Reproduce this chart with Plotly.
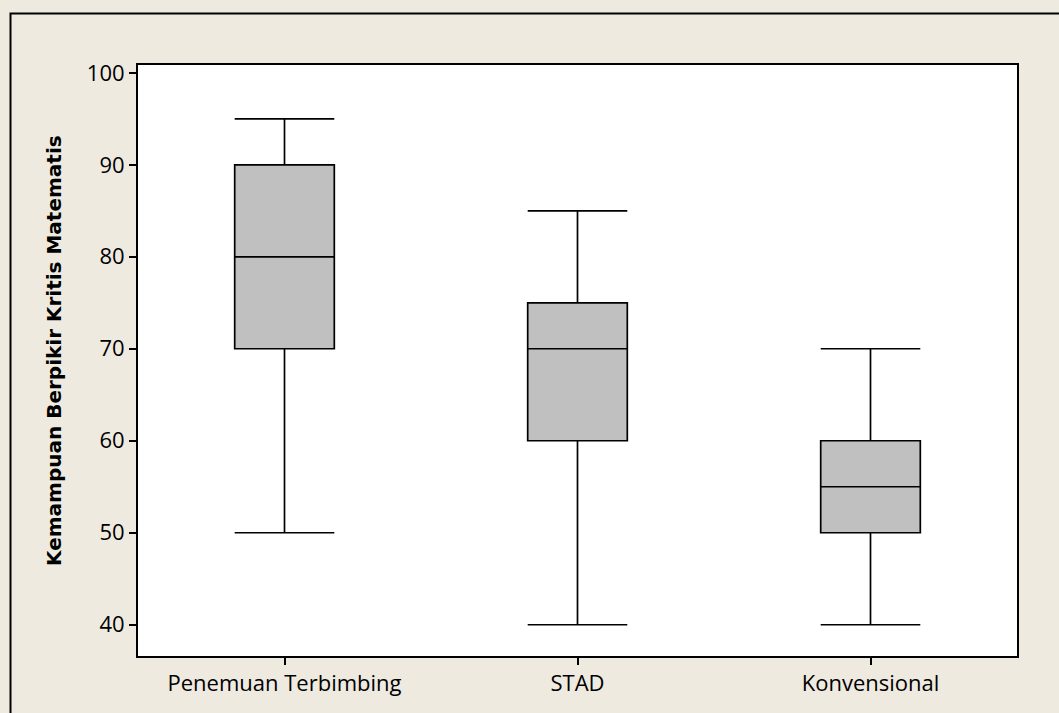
import plotly.graph_objects as go

categories = ["Penemuan Terbimbing", "STAD", "Konvensional"]
minimum = [50, 40, 40]
q1 = [70, 60, 50]
median = [80, 70, 55]
q3 = [90, 75, 60]
maximum = [95, 85, 70]
y_ticks = [40, 50, 60, 70, 80, 90, 100]
y_title = "Kemampuan Berpikir Kritis Matematis"

W, H = 1059, 713
L, R, T, B = 138, 42, 65, 57
pw, ph = W - L - R, H - T - B

fig = go.Figure()
fig.add_trace(go.Box(
    x=categories,
    q1=q1, median=median, q3=q3,
    lowerfence=minimum, upperfence=maximum,
    fillcolor="#C0C0C0",
    line=dict(color="black", width=1.7),
    width=0.34,
    whiskerwidth=1,
    boxpoints=False,
    showlegend=False,
    hoverinfo="skip",
))

bg = "#EEEAE0"
tick_font = dict(family="Open Sans", size=22, color="black")

fig.update_layout(
    width=W, height=H,
    margin=dict(l=L, r=R, t=T, b=B, pad=0),
    paper_bgcolor=bg,
    plot_bgcolor="white",
    xaxis=dict(
        type="category",
        range=[-0.5, 2.5],
        showline=True, linecolor="black", linewidth=2, mirror=True,
        ticks="outside", ticklen=7, tickwidth=1.5, tickcolor="black",
        showgrid=False, zeroline=False,
        tickfont=tick_font,
    ),
    yaxis=dict(
        range=[36.6, 100.85],
        tickvals=y_ticks,
        showline=True, linecolor="black", linewidth=2, mirror=True,
        ticks="outside", ticklen=7, tickwidth=1.5, tickcolor="black",
        showgrid=False, zeroline=False,
        tickfont=tick_font,
    ),
    annotations=[dict(
        text="<b>" + y_title + "</b>",
        textangle=-90,
        xref="paper", yref="paper",
        x=(54 - L) / pw, y=(H - B - 351) / ph,
        xanchor="center", yanchor="middle",
        showarrow=False,
        font=dict(family="DejaVu Sans", size=20, color="black"),
    )],
    shapes=[dict(
        type="rect", xref="paper", yref="paper",
        x0=(10.5 - L) / pw, x1=(1080 - L) / pw,
        y0=(H - B - 740) / ph, y1=(H - B - 13.5) / ph,
        line=dict(color="black", width=2),
        fillcolor="rgba(0,0,0,0)",
        layer="below",
    )],
)

fig.write_html(
    "out.html",
    config={"displayModeBar": False},
    post_script="document.body.style.margin='0';document.body.style.overflow='hidden';",
)
